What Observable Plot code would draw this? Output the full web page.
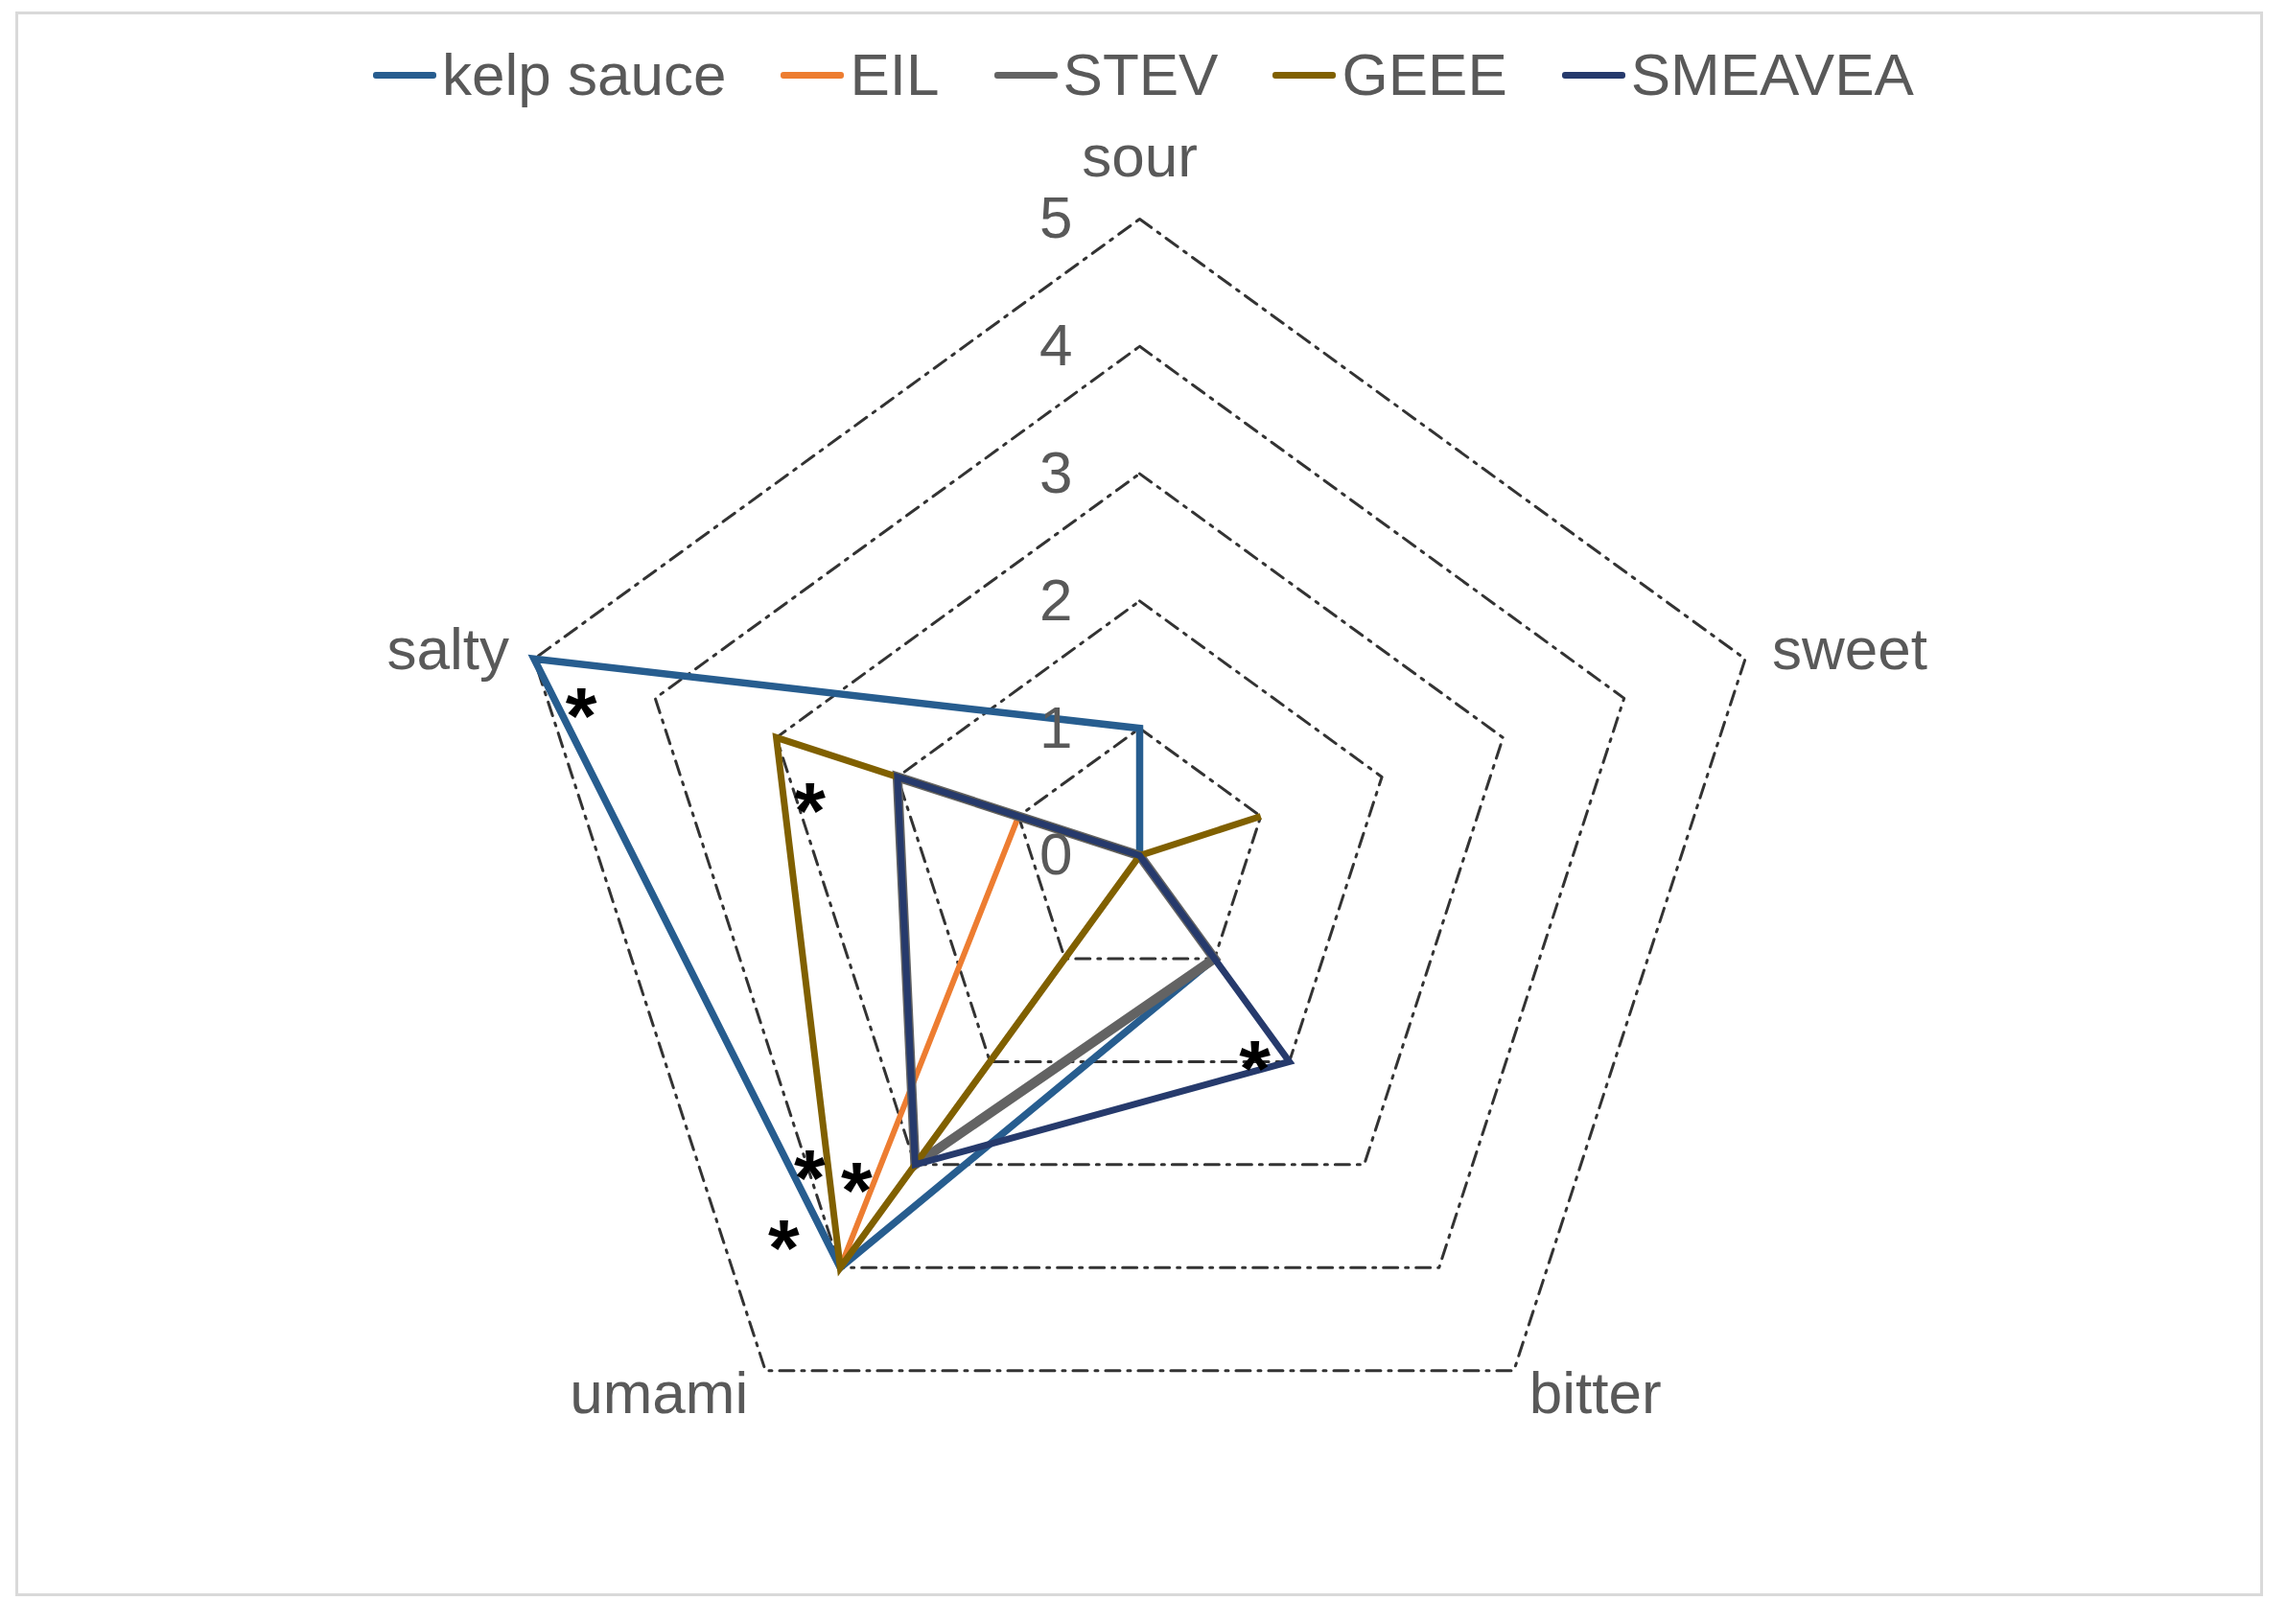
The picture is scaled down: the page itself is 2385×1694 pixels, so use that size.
<!DOCTYPE html>
<html>
<head>
<meta charset="utf-8">
<script src="https://cdn.jsdelivr.net/npm/d3@7"></script>
<script src="https://cdn.jsdelivr.net/npm/@observablehq/plot@0.6"></script>
<style>
  html, body { margin: 0; padding: 0; background: #fff; }
  #page { position: relative; width: 2385px; height: 1694px; overflow: hidden; font-family: "Liberation Sans", Arial, sans-serif; }
  #legend { height: 110px; padding-top: 46px; box-sizing: border-box; display: flex; justify-content: center; align-items: center; gap: 57px; }
  .item { display: flex; align-items: center; font-size: 62px; line-height: 1; color: #595959; }
  .sw { width: 66px; height: 7px; margin-right: 6px; border-radius: 3px; }
  #frame { position: absolute; left: 16px; top: 12px; width: 2344px; height: 1653px; border: 3px solid #d9d9d9; box-sizing: border-box; pointer-events: none; }
</style>
</head>
<body>
<div id="page">
  <div id="legend"></div>
  <div id="chart"></div>
  <div id="frame"></div>
</div>
<script>
// ---- data ----
const axes = ["sour", "sweet", "bitter", "umami", "salty"];
const seriesNames = ["kelp sauce", "EIL", "STEV", "GEEE", "SMEAVEA"];
const kelpSauce = [1, 0, 1, 4, 5];
const eil       = [0, 0, 0, 4, 1];
const stev      = [0, 0, 1, 3, 2];
const geee      = [0, 1, 0, 4, 3];
const smeavea   = [0, 0, 2, 3, 2];
const tickValues = [0, 1, 2, 3, 4, 5];
const gridLevels = [1, 2, 3, 4, 5];
// significance marks: axis and value of the point they annotate
const starAxes   = ["salty", "salty", "bitter", "umami", "umami", "umami"];
const starValues = [5, 3, 2, 4, 3, 4];

// ---- styling ----
const seriesValues = [kelpSauce, eil, stev, geee, smeavea];
const seriesColors = ["#275d8f", "#ed7d31", "#636363", "#806000", "#263a6c"];
const seriesWidths = [7.5, 6, 10, 7, 7];
const starOffsets = [[49, 40], [35, 57], [-36, -12], [-32, -113], [-61, 7], [-59, -40]];
const textColor = "#595959";
const font = "'Liberation Sans', Arial, sans-serif";

// ---- geometry helpers (polar -> cartesian in data units) ----
const ang = i => Math.PI / 2 - i * 2 * Math.PI / axes.length;
const pt = (r, i) => ({x: r * Math.cos(ang(i)), y: r * Math.sin(ang(i))});

// ---- legend ----
const legend = document.getElementById("legend");
seriesNames.forEach((name, k) => {
  const it = document.createElement("div");
  it.className = "item";
  const sw = document.createElement("span");
  sw.className = "sw";
  sw.style.background = seriesColors[k];
  const tx = document.createElement("span");
  tx.textContent = name;
  it.appendChild(sw); it.appendChild(tx);
  legend.appendChild(it);
});

// ---- chart ----
const top0 = 110;
const W = 2385, H = 1694 - top0;
const unit = 132.8, cx = 1188, cy = 892 - top0;

const ringPts = gridLevels.flatMap(level => axes.map((a, i) => ({level, ...pt(level, i)})));
const seriesMarks = seriesNames.map((name, k) => {
  const pts = axes.map((a, i) => ({series: name, ...pt(seriesValues[k][i], i)}));
  return Plot.line(pts, {x: "x", y: "y", curve: "linear-closed", stroke: seriesColors[k],
    strokeWidth: seriesWidths[k], strokeLinejoin: "miter", strokeMiterlimit: 6});
});

const tickPts = tickValues.map(v => ({v, ...pt(v, 0)}));
const labelPts = axes.map((a, i) => ({a, ...pt(5, i)}));
const labelOpts = [
  {dx: 0, dy: -64, textAnchor: "middle"},
  {dx: 28, dy: -9, textAnchor: "start"},
  {dx: 16, dy: 24, textAnchor: "start"},
  {dx: -18, dy: 24, textAnchor: "end"},
  {dx: -26, dy: -9, textAnchor: "end"}
];
const starSize = 84;
const starMarks = starAxes.map((a, k) => {
  const p = pt(starValues[k], axes.indexOf(a));
  return Plot.text([p], {x: "x", y: "y", text: () => "*", fontSize: starSize, fontWeight: "bold",
    fill: "#000", fontFamily: font, dx: starOffsets[k][0], dy: starOffsets[k][1] + 0.26 * starSize});
});

const chart = Plot.plot({
  width: W, height: H,
  marginTop: 0, marginRight: 0, marginBottom: 0, marginLeft: 0,
  x: {domain: [-cx / unit, (W - cx) / unit], axis: null},
  y: {domain: [-(H - cy) / unit, cy / unit], axis: null},
  style: {background: "transparent", fontFamily: font, overflow: "visible"},
  marks: [
    Plot.line(ringPts, {x: "x", y: "y", z: "level", curve: "linear-closed", stroke: "#333333",
      strokeWidth: 3, strokeDasharray: "15,8,3,8"}),
    ...seriesMarks,
    Plot.text(tickPts, {x: "x", y: "y", text: d => String(d.v), dx: -70, textAnchor: "end",
      fontSize: 62, fill: textColor, fontFamily: font}),
    ...labelPts.map((d, i) => Plot.text([d], {x: "x", y: "y", text: "a", fontSize: 62, fill: textColor,
      fontFamily: font, ...labelOpts[i]})),
    ...starMarks
  ]
});
document.getElementById("chart").appendChild(chart);
</script>
</body>
</html>
